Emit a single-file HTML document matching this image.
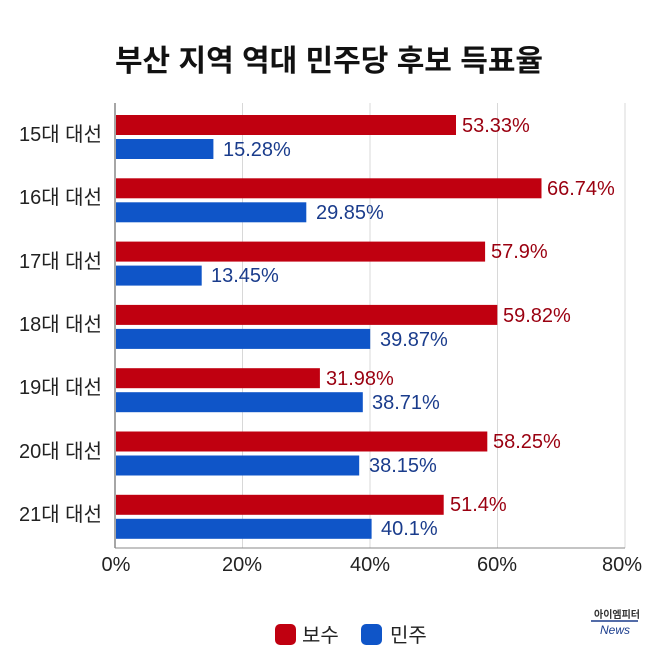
<!DOCTYPE html><html><head><meta charset="utf-8"><style>
body{margin:0;background:#fff;}
svg text{font-family:"Liberation Sans","Noto Sans CJK KR",sans-serif;}
</style></head><body>
<svg width="658" height="658" viewBox="0 0 658 658" xmlns="http://www.w3.org/2000/svg">
<rect width="658" height="658" fill="#fff"/>
<text x="329" y="71" text-anchor="middle" font-size="30" font-weight="bold" fill="#111">부산 지역 역대 민주당 후보 득표율</text>
<g stroke="#d8d8d8" stroke-width="1">
<line x1="242.5" y1="103" x2="242.5" y2="548"/><line x1="370" y1="103" x2="370" y2="548"/><line x1="497.5" y1="103" x2="497.5" y2="548"/><line x1="625" y1="103" x2="625" y2="548"/>
</g>
<line x1="115" y1="103" x2="115" y2="548" stroke="#888" stroke-width="1.5"/>
<line x1="115" y1="548" x2="625" y2="548" stroke="#888" stroke-width="1"/>
<g font-size="20" fill="#222">
<text x="116" y="571" text-anchor="middle">0%</text><text x="242" y="571" text-anchor="middle">20%</text><text x="370" y="571" text-anchor="middle">40%</text><text x="497" y="571" text-anchor="middle">60%</text><text x="622" y="571" text-anchor="middle">80%</text>
</g>
<rect x="275" y="624" width="21" height="21" rx="5" fill="#c00010"/>
<text x="302" y="642" font-size="20" fill="#222">보수</text>
<rect x="361" y="624" width="21" height="21" rx="5" fill="#0f55c8"/>
<text x="390" y="642" font-size="20" fill="#222">민주</text>
<text x="617" y="618" text-anchor="middle" font-size="10" font-weight="bold" fill="#333">아이엠피터</text>
<line x1="591" y1="621" x2="638" y2="621" stroke="#1a3c8c" stroke-width="1.5"/>
<text x="615" y="634" text-anchor="middle" font-size="12" font-style="italic" fill="#1a3c8c">News</text>
<g font-size="20" fill="#222">
<text x="102" y="141" text-anchor="end">15대 대선</text>
<text x="102" y="204" text-anchor="end">16대 대선</text>
<text x="102" y="268" text-anchor="end">17대 대선</text>
<text x="102" y="331" text-anchor="end">18대 대선</text>
<text x="102" y="394" text-anchor="end">19대 대선</text>
<text x="102" y="458" text-anchor="end">20대 대선</text>
<text x="102" y="521" text-anchor="end">21대 대선</text>
</g>
<g fill="#c00010">
<rect x="116" y="115" width="340" height="20"/>
<rect x="116" y="178.3" width="425.5" height="20"/>
<rect x="116" y="241.6" width="369.1" height="20"/>
<rect x="116" y="304.9" width="381.3" height="20"/>
<rect x="116" y="368.2" width="203.9" height="20"/>
<rect x="116" y="431.5" width="371.3" height="20"/>
<rect x="116" y="494.8" width="327.7" height="20"/>
</g>
<g fill="#0f55c8">
<rect x="116" y="139" width="97.4" height="20"/>
<rect x="116" y="202.3" width="190.3" height="20"/>
<rect x="116" y="265.6" width="85.7" height="20"/>
<rect x="116" y="328.9" width="254.2" height="20"/>
<rect x="116" y="392.2" width="246.8" height="20"/>
<rect x="116" y="455.5" width="243.2" height="20"/>
<rect x="116" y="518.8" width="255.6" height="20"/>
</g>
<g font-size="20" fill="#9a0010">
<text x="462" y="132">53.33%</text>
<text x="547" y="195">66.74%</text>
<text x="491" y="258">57.9%</text>
<text x="503" y="322">59.82%</text>
<text x="326" y="385">31.98%</text>
<text x="493" y="448">58.25%</text>
<text x="450" y="511">51.4%</text>
</g>
<g font-size="20" fill="#1a3c8c">
<text x="223" y="156">15.28%</text>
<text x="316" y="219">29.85%</text>
<text x="211" y="282">13.45%</text>
<text x="380" y="346">39.87%</text>
<text x="372" y="409">38.71%</text>
<text x="369" y="472">38.15%</text>
<text x="381" y="535">40.1%</text>
</g>
</svg>
</body></html>
